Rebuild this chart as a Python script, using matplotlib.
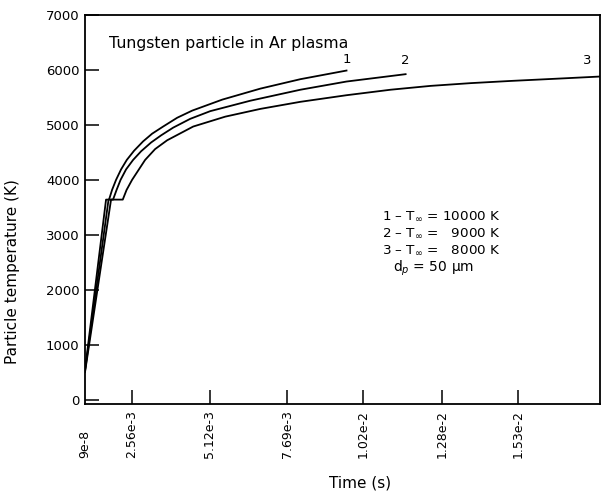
import numpy as np
import matplotlib
matplotlib.use("Agg")
import matplotlib.pyplot as plt

# Time (s) and particle temperature (K) for the three plasma temperatures
t1 = [9e-8, 1.144e-3, 1.307e-3, 1.471e-3, 1.689e-3, 1.961e-3, 2.271e-3, 2.626e-3,
      2.924e-3, 3.222e-3, 3.586e-3, 4.050e-3, 4.546e-3, 5.539e-3, 6.797e-3,
      8.121e-3, 9.643e-3]
T1 = [540, 3640, 3640, 3816, 4000, 4190, 4362, 4530,
      4700, 4840, 4970, 5130, 5260, 5460, 5660,
      5832, 5989]

t2 = [9e-8, 1.280e-3, 1.525e-3, 1.716e-3, 1.934e-3, 2.233e-3, 2.593e-3, 2.858e-3,
      3.189e-3, 3.520e-3, 3.917e-3, 4.480e-3, 5.142e-3, 6.466e-3, 8.121e-3,
      9.643e-3, 11.596e-3]
T2 = [520, 3640, 3640, 3816, 4000, 4190, 4362, 4520,
      4680, 4810, 4950, 5110, 5250, 5440, 5640,
      5789, 5923]

t3 = [9e-8, 1.416e-3, 2.053e-3, 2.260e-3, 2.560e-3, 2.990e-3, 3.321e-3, 3.719e-3,
      4.579e-3, 5.638e-3, 6.797e-3, 8.121e-3, 9.643e-3, 11.100e-3, 12.424e-3,
      13.748e-3, 15.072e-3, 16.561e-3, 18.018e-3]
T3 = [500, 3640, 3640, 3816, 4000, 4362, 4560, 4720,
      4970, 5150, 5291, 5420, 5540, 5640, 5710,
      5760, 5800, 5840, 5880]

tick_vals = [9e-8, 2.56e-3, 5.12e-3, 7.69e-3, 1.02e-2, 1.28e-2, 1.53e-2]
tick_text = ['9e-8', '2.56e-3', '5.12e-3', '7.69e-3', '1.02e-2', '1.28e-2', '1.53e-2']

plasma_lines = ['1 – T$_{\\infty}$ = 10000 K',
                '2 – T$_{\\infty}$ =   9000 K',
                '3 – T$_{\\infty}$ =   8000 K']

# the time axis is stretched differently before the first full interval
T0, T1s, SPP, W0 = 9e-8, 2.56e-3, 3.31e-5, 47.0

def fwd(t):
    t = np.asarray(t, dtype=float)
    return np.where(t < T1s, (t - T0) / (T1s - T0) * W0, W0 + (t - T1s) / SPP)

def inv(u):
    u = np.asarray(u, dtype=float)
    return np.where(u < W0, T0 + u / W0 * (T1s - T0), T1s + (u - W0) * SPP)

plt.rcParams['font.family'] = 'DejaVu Sans'
plt.rcParams['font.size'] = 9.5
plt.rcParams['mathtext.fontset'] = 'dejavusans'

fig = plt.figure(figsize=(6.01, 4.95), dpi=100)
ax = fig.add_axes([85 / 601, 91 / 495, 515 / 601, 389 / 495])
ax.set_xscale('function', functions=(fwd, inv))

for t, T in [(t1, T1), (t2, T2), (t3, T3)]:
    ax.plot(t, T, color='black', lw=1.3, solid_joinstyle='round')

ax.set_xlim(9e-8, T1s + 467 * SPP)
ax.set_ylim(-80, 7000)
ax.set_yticks(range(0, 7001, 1000))
ax.set_xticks(tick_vals)
ax.set_xticklabels(tick_text, rotation=90, va='bottom', fontsize=9)
ax.xaxis.get_major_ticks()[0].tick1line.set_visible(False)
ax.minorticks_off()

ax.tick_params(direction='in', length=10, width=1.1, colors='black')
ax.tick_params(axis='x', pad=39)
ax.tick_params(axis='y', pad=4)
for s in ax.spines.values():
    s.set_linewidth(1.3)

# curve numbers at the ends
ax.text(t1[-1], T1[-1] + 90, '1', ha='center', va='bottom', fontsize=9.5)
ax.text(t2[-1], T2[-1] + 130, '2', ha='center', va='bottom', fontsize=9.5)
ax.text(t3[-1] - 4.2e-4, T3[-1] + 170, '3', ha='center', va='bottom', fontsize=9.5)

ax.text(0.047, 0.928, 'Tungsten particle in Ar plasma', transform=ax.transAxes,
        ha='left', va='center', fontsize=11.3)
for i, s in enumerate(plasma_lines):
    ax.text(0.577, 0.481 - i * 0.043, s, transform=ax.transAxes,
            ha='left', va='center', fontsize=9.7)
ax.text(0.599, 0.350, 'd$_p$ = 50 μm', transform=ax.transAxes,
        ha='left', va='center', fontsize=10)

fig.text(13 / 601, 1 - 272 / 495, 'Particle temperature (K)', rotation=90,
         ha='center', va='center', fontsize=11)
fig.text(360 / 601, 1 - 483 / 495, 'Time (s)', ha='center', va='center',
         fontsize=11)

fig.savefig('out.png', dpi=100)
